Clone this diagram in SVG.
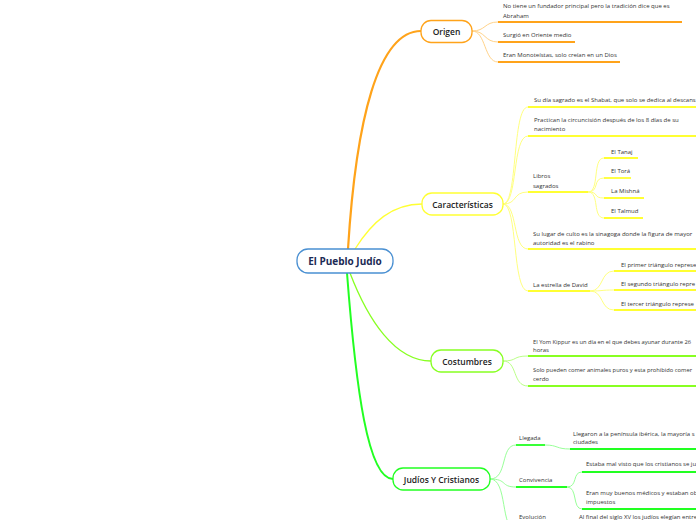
<svg xmlns="http://www.w3.org/2000/svg" width="696" height="520" viewBox="0 0 696 520">
<style>
  .main{font-family:"Open Sans","Liberation Sans",sans-serif;font-size:8.5px;font-weight:600;fill:#222;text-anchor:middle;dominant-baseline:central}
  .root{font-family:"Open Sans","Liberation Sans",sans-serif;font-size:10px;font-weight:700;fill:#1b2a55;text-anchor:middle;dominant-baseline:central}
  .t{font-family:"Open Sans","Liberation Sans",sans-serif;font-size:6px;fill:#333;dominant-baseline:central}
  .c{fill:none}
  .o{stroke:#ffa31a}
  .ol{stroke:#ffd38a}
  .y{stroke:#ffff33}
  .yl{stroke:#ffff80}
  .g1{stroke:#88ff22}
  .g1l{stroke:#bbff88}
  .g2{stroke:#22ff22}
  .g2l{stroke:#99ff99}
</style>
<rect width="696" height="520" fill="#ffffff"/>
<g id="connectors" class="c">
  <path class="o" stroke-width="2.2" d="M348,249 C356,120 378,31 421,31"/>
  <path class="y" stroke-width="1.3" d="M355,249 C372,222 392,204 422,204"/>
  <path class="g1" stroke-width="1.3" d="M350,273 C368,320 395,361 431,361"/>
  <path class="g2" stroke-width="2" d="M347,273 C356,390 368,479 393,479"/>
  <g stroke-width="1">
    <path class="ol" d="M472,31 C486,31 484,22 498,22"/>
    <path class="ol" d="M472,31 C486,31 484,42 498,42"/>
    <path class="ol" d="M472,31 C486,31 484,62 498,62"/>
  </g>
  <g stroke-width="1.8">
    <path class="o" d="M498,22 H682"/>
    <path class="o" d="M498,42 H575"/>
    <path class="o" d="M498,62 H620"/>
  </g>
  <g stroke-width="1">
    <path class="yl" d="M503,204 C518,204 512,107 528,107"/>
    <path class="yl" d="M503,204 C518,204 512,136 528,136"/>
    <path class="yl" d="M503,204 C518,204 512,192 528,192"/>
    <path class="yl" d="M503,204 C518,204 512,249 528,249"/>
    <path class="yl" d="M503,204 C518,204 512,291 528,291"/>
    <path class="yl" d="M588,192 C600,192 592,158 604,158"/>
    <path class="yl" d="M588,192 C600,192 592,178 604,178"/>
    <path class="yl" d="M588,192 C600,192 592,198 604,198"/>
    <path class="yl" d="M588,192 C600,192 592,218 604,218"/>
    <path class="yl" d="M590,291 C604,291 600,271 614,271"/>
    <path class="yl" d="M590,291 C604,291 600,290 614,290"/>
    <path class="yl" d="M590,291 C604,291 600,310 614,310"/>
  </g>
  <g stroke-width="1.8">
    <path class="y" d="M528,107 H696"/>
    <path class="y" d="M528,136 H696"/>
    <path class="y" d="M528,192 H588"/>
    <path class="y" d="M528,249 H696"/>
    <path class="y" d="M528,291 H590"/>
    <path class="y" d="M604,158 H638"/>
    <path class="y" d="M604,178 H631"/>
    <path class="y" d="M604,198 H644"/>
    <path class="y" d="M604,218 H643"/>
    <path class="y" d="M614,271 H696"/>
    <path class="y" d="M614,290 H696"/>
    <path class="y" d="M614,310 H696"/>
  </g>
  <g stroke-width="1">
    <path class="g1l" d="M503,361 C518,361 512,356 528,356"/>
    <path class="g1l" d="M503,361 C518,361 512,386 528,386"/>
  </g>
  <g stroke-width="1.8">
    <path class="g1" d="M528,356 H696"/>
    <path class="g1" d="M528,386 H696"/>
  </g>
  <g stroke-width="1">
    <path class="g2l" d="M490,479 C508,479 500,445 516,445"/>
    <path class="g2l" d="M490,479 C508,479 500,487 516,487"/>
    <path class="g2l" d="M490,479 C508,479 500,530 516,530"/>
    <path class="g2l" d="M545,445 C558,445 556,449 570,449"/>
    <path class="g2l" d="M567,487 C578,487 572,472 582,472"/>
    <path class="g2l" d="M567,487 C578,487 572,509 582,509"/>
  </g>
  <g stroke-width="1.8">
    <path class="g2" d="M516,445 H545"/>
    <path class="g2" d="M516,487 H567"/>
    <path class="g2" d="M570,449 H696"/>
    <path class="g2" d="M582,472 H696"/>
    <path class="g2" d="M582,509 H696"/>
  </g>
</g>
<g id="root">
  <rect x="297" y="249" width="96" height="24" rx="11" fill="#fff" stroke="#4a90d2" stroke-width="1.3"/>
  <text class="root" x="345" y="261">El Pueblo Judío</text>
</g>
<g id="origen">
  <rect x="421" y="20.5" width="51" height="22" rx="10" fill="#fff" stroke="#ffa31a" stroke-width="1.3"/>
  <text class="main" x="446.5" y="31.5">Origen</text>
</g>
<g id="origen-1"><text class="t" x="503" y="6">No tiene un fundador principal pero la tradición dice que es</text><text class="t" x="503" y="15.5">Abraham</text></g>
<g id="origen-2"><text class="t" x="503" y="35">Surgió en Oriente medio</text></g>
<g id="origen-3"><text class="t" x="503" y="55">Eran Monoteístas, solo creían en un Dios</text></g>
<g id="caracteristicas">
  <rect x="422" y="193" width="81" height="22" rx="10" fill="#fff" stroke="#ffff33" stroke-width="1.3"/>
  <text class="main" x="462.5" y="204">Características</text>
</g>
<g id="car-1"><text class="t" x="534" y="100">Su día sagrado es el Shabat, que solo se dedica al descans</text></g>
<g id="car-2"><text class="t" x="534" y="119.5">Practican la circuncisión después de los 8 días de su</text><text class="t" x="534" y="129">nacimiento</text></g>
<g id="car-3"><text class="t" x="533" y="176">Libros</text><text class="t" x="533" y="185.5">sagrados</text></g>
<g id="car-3-1"><text class="t" x="611" y="151.5">El Tanaj</text></g>
<g id="car-3-2"><text class="t" x="611" y="171">El Torá</text></g>
<g id="car-3-3"><text class="t" x="611" y="191">La Mishná</text></g>
<g id="car-3-4"><text class="t" x="611" y="211">El Talmud</text></g>
<g id="car-4"><text class="t" x="533" y="234">Su lugar de culto es la sinagoga donde la figura de mayor</text><text class="t" x="533" y="242.5">autoridad es el rabino</text></g>
<g id="car-5"><text class="t" x="533" y="284.5">La estrella de David</text></g>
<g id="car-5-1"><text class="t" x="621" y="264.5">El primer triángulo represe</text></g>
<g id="car-5-2"><text class="t" x="621" y="284">El segundo triángulo repre</text></g>
<g id="car-5-3"><text class="t" x="621" y="303.5">El tercer triángulo represe</text></g>
<g id="costumbres">
  <rect x="431" y="350" width="72" height="22" rx="10" fill="#fff" stroke="#88ff22" stroke-width="1.3"/>
  <text class="main" x="467" y="361">Costumbres</text>
</g>
<g id="cos-1"><text class="t" x="533" y="341.5" textLength="158" lengthAdjust="spacingAndGlyphs">El Yom Kippur es un día en el que debes ayunar durante 26</text><text class="t" x="533" y="350">horas</text></g>
<g id="cos-2"><text class="t" x="533" y="370" textLength="159" lengthAdjust="spacingAndGlyphs">Solo pueden comer animales puros y esta prohibido comer</text><text class="t" x="533" y="378.5">cerdo</text></g>
<g id="judios">
  <rect x="393" y="468" width="97" height="22" rx="10" fill="#fff" stroke="#22ff22" stroke-width="1.3"/>
  <text class="main" x="441.5" y="479">Judíos Y Cristianos</text>
</g>
<g id="jc-1"><text class="t" x="519" y="438">Llegada</text></g>
<g id="jc-1-1"><text class="t" x="573" y="433.5">Llegaron a la península ibérica, la mayoría s</text><text class="t" x="573" y="442">ciudades</text></g>
<g id="jc-2"><text class="t" x="519" y="479.5">Convivencia</text></g>
<g id="jc-2-1"><text class="t" x="586" y="464">Estaba mal visto que los cristianos se ju</text></g>
<g id="jc-2-2"><text class="t" x="586" y="493">Eran muy buenos médicos y estaban ob</text><text class="t" x="586" y="501.5">impuestos</text></g>
<g id="jc-3"><text class="t" x="519" y="516.5">Evolución</text></g>
<g id="jc-3-1"><text class="t" x="579" y="516.5">Al final del siglo XV los judíos elegían entre</text></g>
</svg>
